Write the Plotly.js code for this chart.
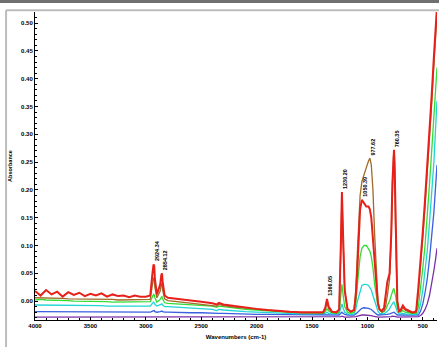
<!DOCTYPE html>
<html>
<head>
<meta charset="utf-8">
<script src="https://cdn.plot.ly/plotly-3.0.1.min.js"></script>
<style>html,body{margin:0;padding:0;background:#fff;}#chart{width:439px;height:347px;}</style>
</head>
<body>
<div id="chart"></div>
<script>
// Wavenumbers (cm-1)
const wavenumbers = [4000,3950,3900,3850,3800,3750,3700,3650,3600,3550,
3500,3450,3400,3350,3300,3250,3200,3150,3100,3050,
3000,2960,2940,2930,2924,2918,2900,2870,2860,2854,
2848,2830,2800,2700,2600,2500,2400,2360,2340,2300,
2200,2100,2000,1900,1800,1700,1600,1500,1450,1400,
1380,1365,1350,1320,1280,1255,1240,1230,1220,1205,
1180,1150,1120,1105,1090,1075,1066,1050,1030,1010,
990,978,965,950,935,920,905,890,870,850,
835,820,800,785,775,765,760,755,745,730,
715,700,680,660,640,620,600,580,560,540,
520,500,480,460,440,420,400,385,372];

const redSeries = [0.018,0.010,0.020,0.012,0.017,0.008,0.016,0.011,0.015,0.009,
0.013,0.010,0.014,0.008,0.012,0.009,0.010,0.007,0.010,0.008,
0.008,0.010,0.050,0.066,0.063,0.040,0.012,0.030,0.047,0.050,
0.035,0.010,0.006,0.004,0.002,-0.001,-0.004,-0.006,-0.003,-0.006,
-0.009,-0.012,-0.014,-0.016,-0.018,-0.019,-0.020,-0.020,-0.020,-0.020,
-0.012,0.004,-0.010,-0.019,-0.020,-0.015,0.100,0.196,0.120,0.020,
-0.014,-0.019,-0.016,0.010,0.060,0.120,0.165,0.182,0.175,0.170,
0.170,0.165,0.150,0.110,0.060,0.020,-0.005,-0.015,-0.018,-0.012,
0.010,0.035,0.050,0.120,0.210,0.265,0.272,0.250,0.120,0.000,
-0.018,-0.016,-0.008,-0.014,-0.016,-0.018,-0.020,-0.020,-0.018,0.025,
0.070,0.125,0.182,0.240,0.310,0.370,0.440,0.490,0.530];

const oliveSeries = [0.006,0.006,0.005,0.005,0.005,0.005,0.004,0.004,0.004,0.004,
0.004,0.003,0.003,0.003,0.003,0.002,0.002,0.002,0.002,0.002,
0.002,0.003,0.030,0.042,0.040,0.025,0.006,0.018,0.030,0.032,
0.020,0.004,0.001,-0.001,-0.003,-0.005,-0.007,-0.009,-0.006,-0.008,
-0.011,-0.013,-0.015,-0.017,-0.019,-0.020,-0.021,-0.021,-0.021,-0.021,
-0.015,-0.002,-0.014,-0.020,-0.021,-0.016,0.095,0.190,0.115,0.018,
-0.015,-0.020,-0.015,0.020,0.090,0.160,0.190,0.215,0.230,0.240,
0.252,0.257,0.245,0.200,0.120,0.050,0.000,-0.015,-0.020,-0.018,
-0.008,0.010,0.040,0.115,0.205,0.260,0.268,0.245,0.115,-0.002,
-0.019,-0.018,-0.012,-0.016,-0.018,-0.020,-0.021,-0.021,-0.020,0.015,
0.060,0.115,0.170,0.228,0.295,0.355,0.425,0.475,0.515];

const greenSeries = [0.002,0.003,0.002,0.002,0.001,0.001,0.001,0.000,0.000,0.000,
-0.001,-0.001,-0.001,-0.001,-0.002,-0.002,-0.002,-0.002,-0.002,-0.002,
-0.002,-0.001,0.008,0.012,0.011,0.006,-0.002,0.003,0.007,0.008,
0.004,-0.003,-0.004,-0.005,-0.006,-0.007,-0.009,-0.011,-0.009,-0.010,
-0.013,-0.015,-0.016,-0.018,-0.019,-0.020,-0.021,-0.021,-0.022,-0.022,
-0.019,-0.014,-0.018,-0.021,-0.022,-0.020,0.010,0.030,0.012,-0.010,
-0.020,-0.022,-0.020,-0.005,0.030,0.060,0.080,0.095,0.100,0.100,
0.095,0.090,0.080,0.060,0.030,0.010,-0.008,-0.016,-0.020,-0.019,
-0.015,-0.008,0.000,0.010,0.018,0.022,0.022,0.018,0.008,-0.012,
-0.020,-0.020,-0.017,-0.020,-0.021,-0.022,-0.022,-0.022,-0.022,-0.010,
0.020,0.060,0.100,0.150,0.210,0.270,0.330,0.380,0.420];

const cyanSeries = [-0.007,-0.007,-0.007,-0.007,-0.008,-0.008,-0.008,-0.008,-0.008,-0.008,
-0.008,-0.008,-0.008,-0.009,-0.009,-0.009,-0.009,-0.009,-0.009,-0.009,
-0.009,-0.009,-0.004,-0.002,-0.003,-0.006,-0.009,-0.007,-0.005,-0.005,
-0.007,-0.010,-0.010,-0.011,-0.012,-0.013,-0.015,-0.017,-0.015,-0.016,
-0.018,-0.019,-0.020,-0.021,-0.022,-0.022,-0.023,-0.023,-0.023,-0.023,
-0.022,-0.020,-0.022,-0.023,-0.023,-0.022,-0.012,-0.005,-0.012,-0.020,
-0.023,-0.024,-0.023,-0.015,0.000,0.012,0.020,0.028,0.030,0.030,
0.028,0.025,0.020,0.010,0.000,-0.010,-0.018,-0.022,-0.023,-0.023,
-0.021,-0.018,-0.014,-0.008,-0.004,-0.002,-0.002,-0.004,-0.010,-0.019,
-0.023,-0.023,-0.022,-0.023,-0.024,-0.024,-0.024,-0.024,-0.024,-0.020,
-0.005,0.020,0.050,0.090,0.140,0.190,0.250,0.310,0.360];

const blueSeries = [-0.019,-0.019,-0.019,-0.019,-0.019,-0.019,-0.019,-0.019,-0.020,-0.020,
-0.020,-0.020,-0.020,-0.020,-0.020,-0.020,-0.020,-0.020,-0.020,-0.020,
-0.020,-0.020,-0.018,-0.017,-0.017,-0.019,-0.020,-0.019,-0.018,-0.018,
-0.019,-0.020,-0.020,-0.021,-0.021,-0.021,-0.022,-0.023,-0.022,-0.022,
-0.023,-0.023,-0.024,-0.024,-0.024,-0.025,-0.025,-0.025,-0.025,-0.025,
-0.025,-0.024,-0.025,-0.025,-0.025,-0.025,-0.022,-0.020,-0.022,-0.024,
-0.025,-0.025,-0.025,-0.023,-0.020,-0.017,-0.015,-0.013,-0.012,-0.012,
-0.013,-0.014,-0.015,-0.018,-0.021,-0.023,-0.025,-0.025,-0.025,-0.025,
-0.025,-0.024,-0.023,-0.022,-0.021,-0.020,-0.020,-0.021,-0.023,-0.025,
-0.025,-0.025,-0.025,-0.025,-0.025,-0.026,-0.026,-0.026,-0.026,-0.025,
-0.018,-0.005,0.015,0.040,0.075,0.115,0.160,0.205,0.245];

const purpleSeries = [-0.029,-0.029,-0.029,-0.029,-0.029,-0.029,-0.029,-0.029,-0.029,-0.029,
-0.029,-0.029,-0.029,-0.029,-0.029,-0.029,-0.029,-0.029,-0.029,-0.029,
-0.029,-0.029,-0.028,-0.028,-0.028,-0.029,-0.029,-0.029,-0.028,-0.028,
-0.029,-0.029,-0.029,-0.029,-0.029,-0.029,-0.029,-0.029,-0.029,-0.029,
-0.029,-0.029,-0.029,-0.029,-0.029,-0.029,-0.029,-0.029,-0.029,-0.029,
-0.029,-0.028,-0.029,-0.029,-0.029,-0.029,-0.028,-0.027,-0.028,-0.029,
-0.029,-0.029,-0.029,-0.028,-0.027,-0.026,-0.026,-0.025,-0.025,-0.025,
-0.025,-0.026,-0.026,-0.027,-0.028,-0.028,-0.029,-0.029,-0.029,-0.029,
-0.029,-0.029,-0.028,-0.028,-0.027,-0.027,-0.027,-0.027,-0.028,-0.029,
-0.029,-0.029,-0.029,-0.029,-0.029,-0.029,-0.029,-0.029,-0.029,-0.028,
-0.026,-0.022,-0.015,-0.005,0.010,0.030,0.055,0.075,0.095];

const seriesColors = ["#7a2fa8","#3a5fe0","#22d4d4","#33dd33","#a06a28","#e8201a"];
const seriesNames = ["S6","S5","S4","S3","S2","S1"];

// Peak labels
const peakPositions = [2924.34, 2854.12, 1366.05, 1230.20, 1050.39, 977.62, 760.35];
const peakHeights   = [0.066, 0.050, 0.004, 0.196, 0.182, 0.257, 0.272];
const peakLabels    = ["2924.34","2854.12","1366.05","1230.20","1050.39","977.62","760.35"];

const yTickVals = [0,0.05,0.10,0.15,0.20,0.25,0.30,0.35,0.40,0.45,0.50];
const xTickVals = [4000,3500,3000,2500,2000,1500,1000,500];

const allSeries = [purpleSeries, blueSeries, cyanSeries, greenSeries, oliveSeries, redSeries];
const traces = allSeries.map((ys, i) => ({
  x: wavenumbers, y: ys, type: 'scatter', mode: 'lines', name: seriesNames[i],
  line: {color: seriesColors[i], width: i === 5 ? 2 : 1.3},
  hoverinfo: 'skip'
}));

const fam = 'Liberation Sans, Arial, sans-serif';
const lblFont = {family: fam, size: 6, color: '#000', weight: 'bold'};

const annotations = peakPositions.map((p, i) => ({
  x: p, y: peakHeights[i], xref: 'x', yref: 'y', text: peakLabels[i],
  showarrow: false, textangle: -90, xanchor: 'center', yanchor: 'bottom',
  yshift: 1, xshift: 3, font: {family: fam, size: 5.5, color: '#000', weight: 'bold'}
}));

const shapes = [
  {type: 'rect', xref: 'paper', yref: 'paper', x0: -0.1, x1: 1.01, y0: 1.029, y1: 1.045,
   fillcolor: '#707070', line: {width: 0}},
  {type: 'line', xref: 'paper', yref: 'paper', x0: -0.072, x1: 1.01, y0: 1.006, y1: 1.006,
   line: {color: '#bdbdbd', width: 2}},
  {type: 'line', xref: 'paper', yref: 'paper', x0: -0.072, x1: -0.072, y0: -0.09, y1: 1.006,
   line: {color: '#bdbdbd', width: 2}}
];

const layout = {
  width: 439, height: 347,
  margin: {l: 35, r: 2, t: 12, b: 27, pad: 0},
  paper_bgcolor: '#fff', plot_bgcolor: '#fff',
  showlegend: false,
  font: lblFont,
  xaxis: {
    range: [4000, 372], autorange: false,
    tickvals: xTickVals, ticktext: xTickVals.map(String),
    showgrid: false, zeroline: false,
    showline: true, linecolor: '#000', linewidth: 1,
    ticks: 'inside', ticklen: 3, tickcolor: '#000',
    minor: {dtick: 100, ticks: 'inside', ticklen: 2, tickcolor: '#000', showgrid: false},
    tickfont: {family: fam, size: 6, color: '#000', weight: 'bold'},
    title: {text: 'Wavenumbers (cm-1)', standoff: 6, font: {family: fam, size: 6, color: '#000', weight: 'bold'}},
    automargin: false
  },
  yaxis: {
    range: [-0.034, 0.52], autorange: false,
    tickvals: yTickVals, ticktext: yTickVals.map(v => v.toFixed(2)),
    showgrid: false, zeroline: false,
    showline: true, linecolor: '#000', linewidth: 1,
    ticks: 'inside', ticklen: 3, tickcolor: '#000',
    minor: {dtick: 0.01, ticks: 'inside', ticklen: 2, tickcolor: '#000', showgrid: false},
    tickfont: {family: fam, size: 6, color: '#000', weight: 'bold'},
    title: {text: 'Absorbance', standoff: 8, font: {family: fam, size: 5.5, color: '#000', weight: 'bold'}},
    automargin: false
  },
  annotations: annotations,
  shapes: shapes
};

Plotly.newPlot('chart', traces, layout, {staticPlot: true, displayModeBar: false});
</script>
</body>
</html>
